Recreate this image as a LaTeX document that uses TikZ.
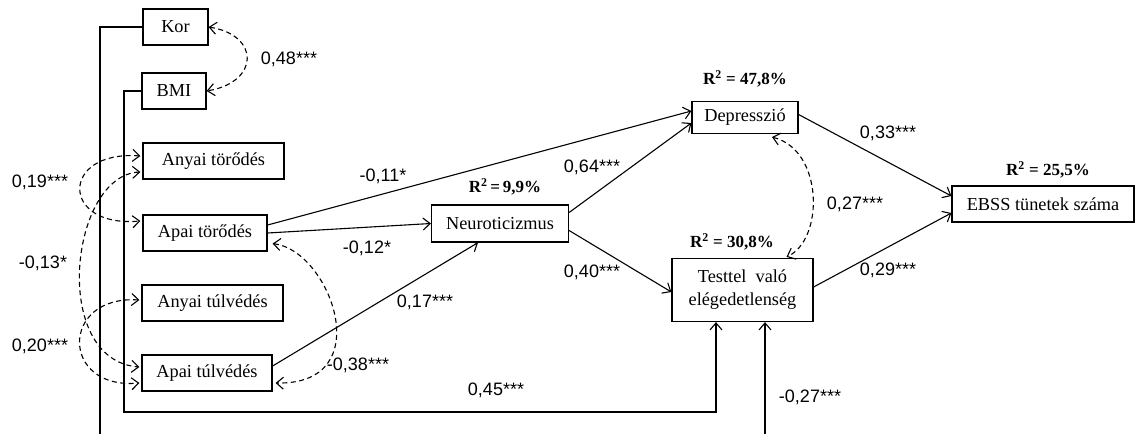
\documentclass[tikz,border=0pt]{standalone}
\usepackage{fontspec}
\setmainfont{Liberation Serif}
\newfontfamily\labfont{Liberation Sans}
\usetikzlibrary{arrows.meta,calc}
\begin{document}
\begin{tikzpicture}[x=1pt,y=-1pt,
  box/.style={draw,line width=1.2pt,inner sep=0pt,font=\fontsize{18.3}{21}\selectfont,align=center},
  conn/.style={line width=1.1pt,-{Straight Barb[length=7pt,width=12pt]}},
  plain/.style={line width=1.1pt},
  cov/.style={line width=1.1pt,dash pattern=on 5pt off 3.5pt,{Straight Barb[length=7pt,width=12pt]}-{Straight Barb[length=7pt,width=12pt]}},
  coef/.style={font=\labfont\fontsize{18}{20}\selectfont,inner sep=0pt},
  rsq/.style={font=\bfseries\fontsize{17}{20}\selectfont,inner sep=0pt}]
\useasboundingbox (0,0) rectangle (1137,434);
% boxes
\node[box,minimum width=65pt,minimum height=36pt] (kor) at (175.5,27) {Kor};
\node[box,minimum width=64pt,minimum height=36pt] (bmi) at (174,91) {BMI};
\node[box,minimum width=141pt,minimum height=36pt] (at) at (213.5,161) {Anyai törődés};
\node[box,minimum width=124pt,minimum height=36pt] (apt) at (205,233) {Apai törődés};
\node[box,minimum width=141pt,minimum height=36pt] (aty) at (212.5,303) {Anyai túlvédés};
\node[box,minimum width=130pt,minimum height=36pt] (apty) at (207,373) {Apai túlvédés};
\node[box,minimum width=137pt,minimum height=37pt] (neuro) at (500,223.5) {Neuroticizmus};
\node[box,minimum width=106pt,minimum height=32pt] (dep) at (745,117.5) {Depresszió};
\node[box,minimum width=141pt,minimum height=63pt] (test) at (742.5,290) {Testtel\ \ való\\[2pt]elégedetlenség};
\node[box,minimum width=182pt,minimum height=36pt] (ebss) at (1043,204) {EBSS tünetek száma};
% R2 labels
\node[rsq] (r1) at (505,187) {R\textsuperscript{2}\,=\,9,9\%};
\node[rsq] (r2) at (745,79) {R\textsuperscript{2} = 47,8\%};
\node[rsq] (r3) at (732,242) {R\textsuperscript{2} = 30,8\%};
\node[rsq] (r4) at (1048,170) {R\textsuperscript{2} = 25,5\%};
% coordinates for free ends
\coordinate (korbot) at (100,434);
\coordinate (bmic) at (124,412);
\coordinate (bmix) at (716,412);
\coordinate (k2bot) at (765,434);
% control lines
\draw[plain] (kor.west) -| (korbot);
\draw[conn] (bmi.west) -| (bmic) -- (bmix) -- (bmix |- test.south);
\draw[conn] (k2bot) -- (k2bot |- test.south);
% regression paths
\draw[conn] ($(apt.east)+(0,-8)$) -- ($(dep.west)+(0,-6.5)$);
\draw[conn] (apt.east) -- (neuro.west);
\draw[conn] ($(apty.east)+(0,-7)$) -- ($(neuro.south)+(-22,0)$);
\draw[conn] ($(neuro.east)+(0,-11)$) -- ($(dep.west)+(0,5.5)$);
\draw[conn] ($(neuro.east)+(0,7)$) -- ($(test.west)+(0,2)$);
\draw[conn] ($(dep.east)+(0,-3)$) -- ($(ebss.west)+(0,-8)$);
\draw[conn] ($(test.east)+(0,-3)$) -- ($(ebss.west)+(0,9)$);
% covariances
\draw[cov] (kor.east) .. controls (260,35) and (260,82) .. (bmi.east);
\draw[cov] ($(at.west)+(-2,-5)$) .. controls (60,150) and (60,228) .. ($(apt.west)+(-2,-12)$);
\draw[cov] ($(at.west)+(-2,11)$) .. controls (70,175) and (50,360) .. ($(apty.west)+(-2,-6)$);
\draw[cov] ($(aty.west)+(-2,-3)$) .. controls (60,295) and (60,390) .. ($(apty.west)+(-2,10)$);
\draw[cov] ($(apt.south east)+(5,-8)$) .. controls (330,250) and (380,385) .. ($(apty.east)+(3,10)$);
\draw[cov] ($(dep.south)+(27,3)$) .. controls (824,150) and (824,240) .. ($(test.north)+(44,-1)$);
% coefficients
\node[coef] (c48) at (289,59) {0,48***};
\node[coef] (c19) at (40,182) {0,19***};
\node[coef] (c13) at (43,263) {-0,13*};
\node[coef] (c20) at (40,346) {0,20***};
\node[coef] (c11) at (383,176) {-0,11*};
\node[coef] (c12) at (367,248) {-0,12*};
\node[coef] (c17) at (425,302) {0,17***};
\node[coef] (c38) at (358,365) {-0,38***};
\node[coef] (c45) at (496,390) {0,45***};
\node[coef] (c64) at (592,167) {0,64***};
\node[coef] (c40) at (592,272) {0,40***};
\node[coef] (c33) at (888,133) {0,33***};
\node[coef] (c27) at (855,204) {0,27***};
\node[coef] (c29) at (888,270) {0,29***};
\node[coef] (cm27) at (810,397) {-0,27***};
\end{tikzpicture}
\end{document}
